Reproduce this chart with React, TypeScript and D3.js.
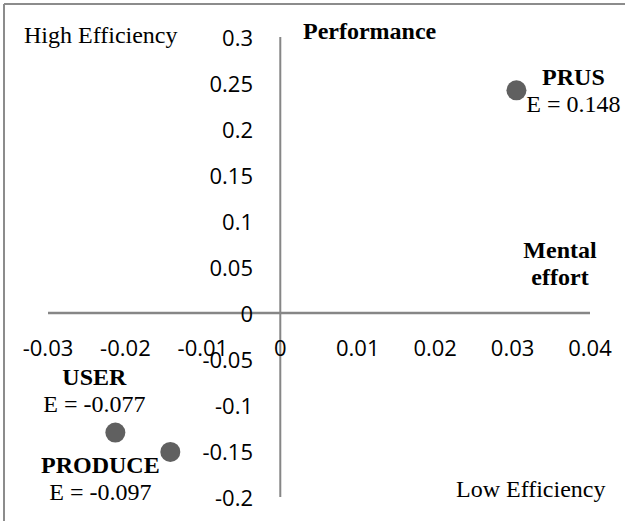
import React from "react";
import * as d3 from "d3";

const names = ["PRUS", "USER", "PRODUCE"];
const xVals = [0.0305, -0.0213, -0.0142];
const yVals = [0.242, -0.13, -0.151];
const eLabels = ["E = 0.148", "E = -0.077", "E = -0.097"];

const xTicks = [-0.03, -0.02, -0.01, 0, 0.01, 0.02, 0.03, 0.04];
const xTickLabels = ["-0.03", "-0.02", "-0.01", "0", "0.01", "0.02", "0.03", "0.04"];
const yTicks = [0.3, 0.25, 0.2, 0.15, 0.1, 0.05, 0, -0.05, -0.1, -0.15, -0.2];
const yTickLabels = ["0.3", "0.25", "0.2", "0.15", "0.1", "0.05", "0", "-0.05", "-0.1", "-0.15", "-0.2"];

const W = 625;
const H = 521;

// label placement relative to each point: [dx, dyName, dyE]
const labelPlace: Record<string, [number, number, number]> = {
  PRUS: [57, -5, 22],
  USER: [-21, -48, -21],
  PRODUCE: [-70, 21, 48],
};

const serif = "'Liberation Serif', 'Times New Roman', serif";
const sans = "'Open Sans', sans-serif";
const SF = 24;

export default function App() {
  const x = d3.scaleLinear().domain([-0.03, 0.04]).range([48, 590]);
  const y = d3.scaleLinear().domain([-0.2, 0.3]).range([497, 37]);
  const axisColor = "#868686";

  return (
    <svg
      width={W}
      height={H}
      style={{ position: "absolute", left: 0, top: 0, display: "block", background: "#fff" }}
    >
      {/* frame */}
      <line x1={4} y1={4} x2={W} y2={4} stroke="#8c8c8c" strokeWidth={2} />
      <line x1={4} y1={4} x2={4} y2={H} stroke="#8c8c8c" strokeWidth={2} />

      {/* axes */}
      <line x1={x(-0.03)} x2={x(0.04)} y1={y(0)} y2={y(0)} stroke={axisColor} strokeWidth={2.5} />
      <line x1={x(0)} x2={x(0)} y1={y(0.3)} y2={y(-0.2)} stroke={axisColor} strokeWidth={2} />

      {/* y tick labels */}
      {yTicks.map((t, i) => (
        <text
          key={"y" + i}
          x={253}
          y={y(t)}
          textAnchor="end"
          dominantBaseline="central"
          fontFamily={sans}
          fontSize={22}
          fill="#000"
        >
          {yTickLabels[i]}
        </text>
      ))}

      {/* x tick labels */}
      {xTicks.map((t, i) => (
        <text
          key={"x" + i}
          x={x(t)}
          y={y(0) + 34}
          textAnchor="middle"
          dominantBaseline="central"
          fontFamily={sans}
          fontSize={22}
          fill="#000"
        >
          {xTickLabels[i]}
        </text>
      ))}

      {/* quadrant labels */}
      <text x={24} y={43} fontFamily={serif} fontSize={SF} fill="#000">High Efficiency</text>
      <text x={303} y={39} fontFamily={serif} fontSize={SF} fontWeight="bold" fill="#000">Performance</text>
      <text x={560} y={258} textAnchor="middle" fontFamily={serif} fontSize={SF} fontWeight="bold" fill="#000">Mental</text>
      <text x={560} y={285} textAnchor="middle" fontFamily={serif} fontSize={SF} fontWeight="bold" fill="#000">effort</text>
      <text x={456} y={497} fontFamily={serif} fontSize={SF} fill="#000">Low Efficiency</text>

      {/* points */}
      {names.map((n, i) => {
        const cx = x(xVals[i]);
        const cy = y(yVals[i]);
        const [dx, dn, de] = labelPlace[n];
        return (
          <g key={n}>
            <circle cx={cx} cy={cy} r={10} fill="#606060" />
            <text x={cx + dx} y={cy + dn} textAnchor="middle" fontFamily={serif} fontSize={SF} fontWeight="bold" fill="#000">
              {n}
            </text>
            <text x={cx + dx} y={cy + de} textAnchor="middle" fontFamily={serif} fontSize={SF} fill="#000">
              {eLabels[i]}
            </text>
          </g>
        );
      })}
    </svg>
  );
}
